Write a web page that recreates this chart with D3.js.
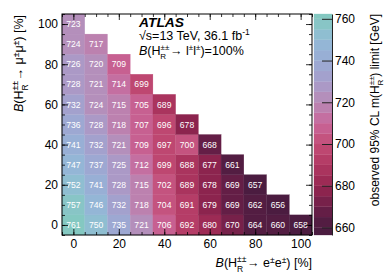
<!DOCTYPE html>
<html>
<head>
<meta charset="utf-8">
<script src="https://cdn.jsdelivr.net/npm/d3@7"></script>
<style>
  body { margin: 0; background: #fff; }
  text { font-family: "Liberation Sans", Arial, sans-serif; }
</style>
</head>
<body>
<script>
// branching ratio grid (%)
const brE = [0, 10, 20, 30, 40, 50, 60, 70, 80, 90, 100];
const brMu = [0, 10, 20, 30, 40, 50, 60, 70, 80, 90, 100];

// observed mass limits [GeV], one row per B(mu mu), columns B(e e) = 0, 10, ...
const limMu0   = [761, 750, 735, 721, 706, 692, 680, 670, 664, 660, 658];
const limMu10  = [757, 746, 732, 718, 704, 691, 679, 669, 662, 656];
const limMu20  = [752, 741, 728, 715, 702, 689, 678, 669, 657];
const limMu30  = [747, 737, 725, 712, 699, 688, 677, 661];
const limMu40  = [741, 732, 721, 709, 697, 700, 668];
const limMu50  = [736, 728, 718, 707, 696, 678];
const limMu60  = [732, 724, 715, 705, 689];
const limMu70  = [728, 721, 714, 699];
const limMu80  = [726, 720, 709];
const limMu90  = [724, 717];
const limMu100 = [723];
const limitRows = [limMu0, limMu10, limMu20, limMu30, limMu40, limMu50,
                   limMu60, limMu70, limMu80, limMu90, limMu100];

const majorTicks = [0, 20, 40, 60, 80, 100];
const colorTicks = [660, 680, 700, 720, 740, 760];
const colorStops = [660, 670, 680, 690, 700, 710, 720, 730, 740, 750, 760];
const colorHex = ["#4b1c40", "#6c1f48", "#962650", "#b03862", "#c24c76", "#c8669a",
                  "#b88ab6", "#a69ecb", "#9aabd4", "#92bad6", "#84c8c1"];

function init() {
  const W = 390, H = 280;
  const left = 62, right = 312, top = 14, bottom = 235;

  let svg = d3.select("body").append("svg")
    .attr("width", W)
    .attr("height", H);

  let x = d3.scaleLinear().domain([-5, 105]).range([left, right]);
  let y = d3.scaleLinear().domain([-5, 105]).range([bottom, top]);
  let col = d3.scaleLinear().domain(colorStops).range(colorHex).clamp(true);
  let cbar = d3.scaleLinear().domain([656.4, 762.3]).range([bottom, top]);

  // 5 GeV colour bands like the ROOT palette
  const band = v => col(Math.floor(v / 5) * 5 + 2.5);

  let cells = [];
  limitRows.forEach((row, i) => {
    row.forEach((v, j) => {
      cells.push({ e: brE[j], mu: brMu[i], v: v });
    });
  });

  svg.selectAll()
    .data(cells)
    .enter()
      .append("rect")
        .attr("x", d => x(d.e - 5))
        .attr("y", d => y(d.mu + 5))
        .attr("width", d => x(d.e + 5) - x(d.e - 5))
        .attr("height", d => y(d.mu - 5) - y(d.mu + 5))
        .attr("fill", d => band(d.v))
        .attr("stroke", d => band(d.v))
        .attr("stroke-width", 0.3)
    ;

  svg.selectAll()
    .data(cells)
    .enter()
      .append("text")
        .attr("x", d => x(d.e))
        .attr("y", d => y(d.mu) + 3.1)
        .attr("text-anchor", "middle")
        .attr("fill", "#fff")
        .attr("font-size", 8.6)
        .text(d => d.v)
    ;

  // axes, ticks inward on all four sides
  const minor = d3.range(-5, 106, 5);
  function styleAxis(g) {
    g.select(".domain").remove();
    g.selectAll("line").attr("stroke", "#000").attr("stroke-width", 0.8);
    g.selectAll("text").attr("font-size", 12).attr("fill", "#000")
      .attr("font-family", "Liberation Sans, Arial, sans-serif");
  }
  const mk = (axisFn, scale, vals, len, labels, tr) => {
    let a = axisFn(scale).tickValues(vals).tickSizeInner(len).tickSizeOuter(0);
    if (!labels) a.tickFormat("");
    else a.tickPadding(4);
    svg.append("g").attr("transform", tr).call(a).call(styleAxis);
  };
  mk(d3.axisBottom, x, majorTicks, -6, true, `translate(0,${bottom})`);
  mk(d3.axisBottom, x, minor, -3, false, `translate(0,${bottom})`);
  mk(d3.axisTop, x, majorTicks, -6, false, `translate(0,${top})`);
  mk(d3.axisTop, x, minor, -3, false, `translate(0,${top})`);
  mk(d3.axisLeft, y, majorTicks, -6, true, `translate(${left},0)`);
  mk(d3.axisLeft, y, minor, -3, false, `translate(${left},0)`);
  mk(d3.axisRight, y, majorTicks, -6, false, `translate(${right},0)`);
  mk(d3.axisRight, y, minor, -3, false, `translate(${right},0)`);

  svg.append("rect")
    .attr("x", left).attr("y", top)
    .attr("width", right - left).attr("height", bottom - top)
    .attr("fill", "none").attr("stroke", "#000").attr("stroke-width", 1);

  // colour bar
  const cbL = 314, cbR = 332;
  let bands = d3.range(655, 765, 5);
  svg.selectAll()
    .data(bands)
    .enter()
      .append("rect")
        .attr("x", cbL)
        .attr("y", d => Math.max(top, cbar(d + 5)))
        .attr("width", cbR - cbL)
        .attr("height", d => Math.min(bottom, cbar(d)) - Math.max(top, cbar(d + 5)))
        .attr("fill", d => col(d + 2.5))
        .attr("stroke", d => col(d + 2.5))
        .attr("stroke-width", 0.3)
    ;
  let cax = d3.axisRight(cbar).tickValues(colorTicks).tickSizeInner(-10).tickSizeOuter(0).tickPadding(3);
  svg.append("g").attr("transform", `translate(${cbR},0)`).call(cax)
    .call(g => {
      g.select(".domain").attr("stroke", "#222").attr("stroke-width", 1);
      g.selectAll("line").attr("stroke", "#222").attr("stroke-width", 1);
      g.selectAll("text").attr("font-size", 12).attr("fill", "#000")
        .attr("font-family", "Liberation Sans, Arial, sans-serif");
    });

  // ATLAS label block
  svg.append("text").attr("x", 139).attr("y", 26.5)
    .attr("font-size", 12).attr("font-weight", "bold").attr("font-style", "italic")
    .attr("textLength", 45).attr("lengthAdjust", "spacingAndGlyphs")
    .text("ATLAS");
  let l2 = svg.append("text").attr("x", 139).attr("y", 39.5).attr("font-size", 12.5);
  l2.append("tspan").text("\u221As=13 TeV, 36.1 fb");
  l2.append("tspan").attr("dy", -5).attr("font-size", 8.5).text("-1");
  let l3 = svg.append("text").attr("x", 139).attr("y", 54.5).attr("font-size", 12.5);
  l3.append("tspan").attr("font-style", "italic").text("B");
  l3.append("tspan").text("(H");
  l3.append("tspan").attr("dy", -4.5).attr("font-size", 8).text("\u00B1\u00B1");
  l3.append("tspan").attr("dx", -9).attr("dy", 9).attr("font-size", 8).text("R");
  l3.append("tspan").attr("dx", 4).attr("dy", -4.5).text("\u2192 l");
  l3.append("tspan").attr("dy", -4.5).attr("font-size", 8).text("\u00B1");
  l3.append("tspan").attr("dy", 4.5).text("l");
  l3.append("tspan").attr("dy", -4.5).attr("font-size", 8).text("\u00B1");
  l3.append("tspan").attr("dy", 4.5).text(")=100%");

  // axis titles
  const brTitle = (g, lep) => {
    g.append("tspan").attr("font-style", "italic").text("B");
    g.append("tspan").text("(H");
    g.append("tspan").attr("dy", -5).attr("font-size", 8.5).text("\u00B1\u00B1");
    g.append("tspan").attr("dx", -9.5).attr("dy", 9.5).attr("font-size", 8.5).text("R");
    g.append("tspan").attr("dx", 4).attr("dy", -4.5).text("\u2192 " + lep);
    g.append("tspan").attr("dy", -4.5).attr("font-size", 8.5).text("\u00B1");
    g.append("tspan").attr("dy", 4.5).text(lep);
    g.append("tspan").attr("dy", -4.5).attr("font-size", 8.5).text("\u00B1");
    g.append("tspan").attr("dy", 4.5).text(") [%]");
  };
  let xt = svg.append("text").attr("x", right).attr("y", 267)
    .attr("text-anchor", "end").attr("font-size", 12.5);
  brTitle(xt, "e");
  let yt = svg.append("text").attr("transform", "translate(23,15) rotate(-90)")
    .attr("text-anchor", "end").attr("font-size", 12.5);
  brTitle(yt, "\u03BC");

  let ct = svg.append("text").attr("transform", "translate(379,14) rotate(-90)")
    .attr("text-anchor", "end").attr("font-size", 12);
  ct.append("tspan").text("observed 95% CL  m(H");
  ct.append("tspan").attr("dy", -5).attr("font-size", 8).text("\u00B1\u00B1");
  ct.append("tspan").attr("dx", -9).attr("dy", 9).attr("font-size", 8).text("R");
  ct.append("tspan").attr("dx", 3).attr("dy", -4).text(") limit [GeV]");
}
init();
</script>
</body>
</html>
